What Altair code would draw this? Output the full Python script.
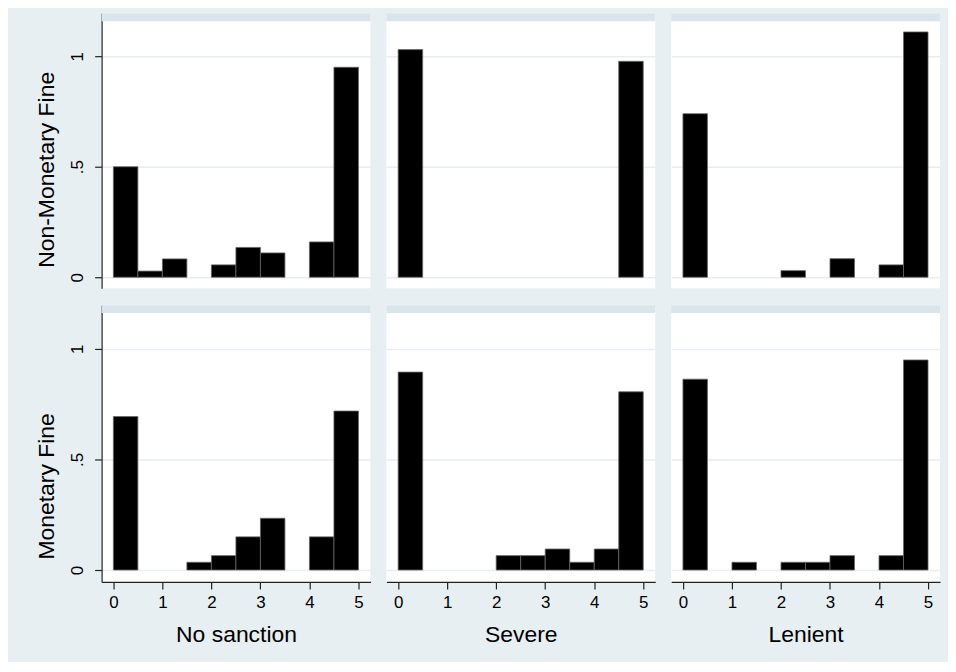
import altair as alt
import pandas as pd

# ---- data ----
row_titles = ["Non-Monetary Fine", "Monetary Fine"]
col_titles = ["No sanction", "Severe", "Lenient"]
bin_starts = [0.0, 0.5, 1.0, 1.5, 2.0, 2.5, 3.0, 3.5, 4.0, 4.5]
bin_width = 0.5
x_ticks = [0, 1, 2, 3, 4, 5]
y_ticks = [0, 0.5, 1]

nonmon_none = [0.50, 0.028, 0.083, 0.0, 0.056, 0.135, 0.11, 0.0, 0.16, 0.95]
nonmon_severe = [1.03, 0.0, 0.0, 0.0, 0.0, 0.0, 0.0, 0.0, 0.0, 0.977]
nonmon_lenient = [0.74, 0.0, 0.0, 0.0, 0.03, 0.0, 0.084, 0.0, 0.056, 1.11]
mon_none = [0.694, 0.0, 0.0, 0.035, 0.065, 0.15, 0.234, 0.0, 0.15, 0.719]
mon_severe = [0.895, 0.0, 0.0, 0.0, 0.065, 0.065, 0.095, 0.035, 0.095, 0.806]
mon_lenient = [0.863, 0.0, 0.035, 0.0, 0.035, 0.035, 0.065, 0.0, 0.065, 0.95]

grid_values = [[nonmon_none, nonmon_severe, nonmon_lenient],
               [mon_none, mon_severe, mon_lenient]]

# ---- style ----
BG = "#E8EFF2"
STRIP = "#D9E5EB"
GRID = "#E6EEF1"
FONT = "Liberation Sans"
PANEL_W = 270
HEIGHTS = [276, 278]
YDOMS = [[-0.0495, 1.194], [-0.054, 1.198]]
XDOM = [-0.24, 5.245]


def panel(values, r, c):
    df = pd.DataFrame({
        "start": bin_starts,
        "end": [s + bin_width for s in bin_starts],
        "density": values,
    })
    df = df[df["density"] > 0]

    if c == 0:
        yaxis = alt.Axis(values=y_ticks, title=row_titles[r],
                         labelExpr="replace(format(datum.value, '~g'), '0.', '.')",
                         grid=True, gridColor=GRID, gridWidth=1.5,
                         domainColor="#222", domainWidth=1.2,
                         tickColor="#222", tickSize=7, tickWidth=1.2,
                         labelAngle=270, labelAlign="center", labelBaseline="bottom",
                         labelFontSize=17, labelPadding=8, labelColor="black",
                         labelFont=FONT,
                         titleFontSize=23, titleFontWeight="normal", titleColor="black",
                         titleFont=FONT, titlePadding=10,
                         titleAngle=270, titleAlign="left", titleBaseline="bottom",
                         titleY=255)
    else:
        yaxis = alt.Axis(values=y_ticks, title=None, grid=True, gridColor=GRID,
                         gridWidth=1.5, labels=False, ticks=False, domain=False)

    if r == 1:
        xaxis = alt.Axis(values=x_ticks, title=col_titles[c], grid=False,
                         domainColor="#222", domainWidth=1.2,
                         tickColor="#222", tickSize=7, tickWidth=1.2,
                         labelFontSize=17, labelPadding=6, labelColor="black",
                         labelFont=FONT, labelAngle=0,
                         titleFontSize=23, titleFontWeight="normal", titleColor="black",
                         titleFont=FONT, titlePadding=13)
    else:
        xaxis = None

    bars = alt.Chart(df).mark_rect(color="black", stroke="#666", strokeWidth=0.8).encode(
        x=alt.X("start:Q", scale=alt.Scale(domain=XDOM, nice=False, zero=False), axis=xaxis),
        x2="end:Q",
        y=alt.Y("density:Q", scale=alt.Scale(domain=YDOMS[r], nice=False, zero=False), axis=yaxis),
        y2=alt.datum(0),
    )
    strip = alt.Chart(pd.DataFrame({"k": [0]})).mark_rect(color=STRIP).encode(
        x=alt.value(0), x2=alt.value(PANEL_W), y=alt.value(0), y2=alt.value(8)
    )
    return alt.layer(bars, strip).properties(width=PANEL_W, height=HEIGHTS[r])


rows = []
for r in range(2):
    rows.append(alt.hconcat(*[panel(grid_values[r][c], r, c) for c in range(3)], spacing=16))

chart = alt.vconcat(*rows, spacing=17).configure(
    background=BG,
    padding={"left": 27, "top": 4, "right": 8, "bottom": 14},
).configure_view(stroke=None, fill="white")

chart.save("out.html", embed_options={"renderer": "svg", "actions": False})
